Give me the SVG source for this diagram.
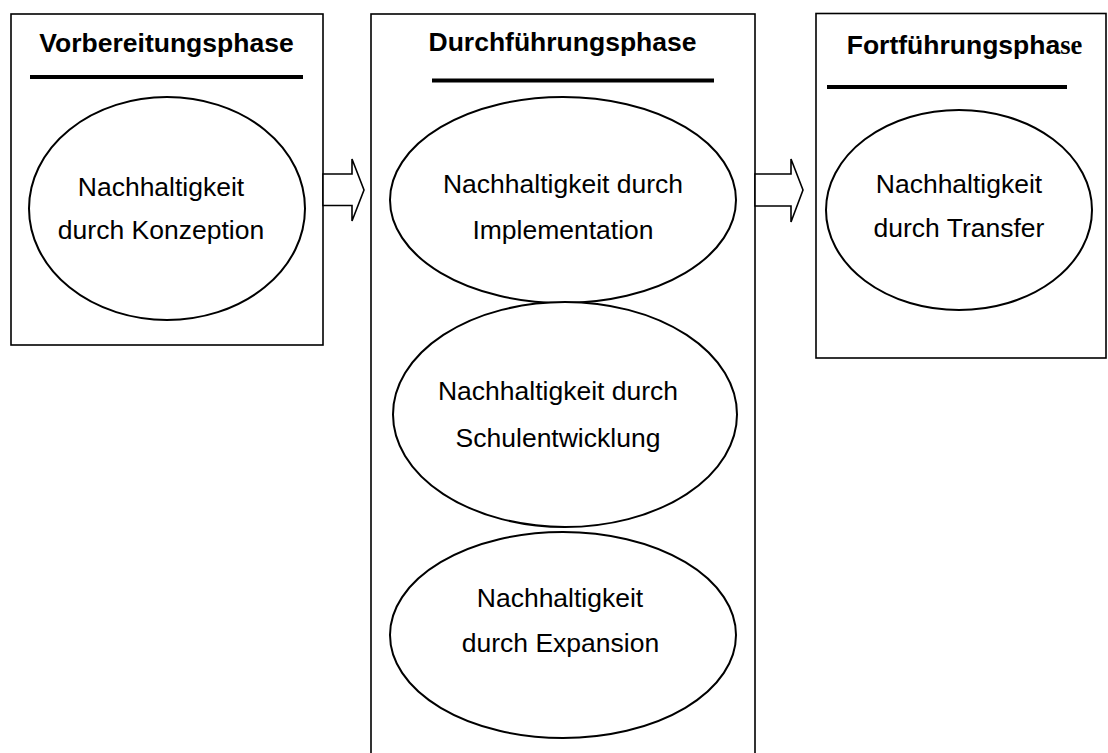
<svg xmlns="http://www.w3.org/2000/svg" width="1108" height="753" viewBox="0 0 1108 753">
<style>
.box{fill:#fff;stroke:#000;stroke-width:1.6}
.ell{fill:#fff;stroke:#000;stroke-width:2}
.ul{stroke:#000;stroke-width:4}
.arr{fill:#fff;stroke:#000;stroke-width:1.6;stroke-linejoin:miter}
.t{font-family:"Liberation Sans",Arial,sans-serif;font-size:26.5px;fill:#000;text-anchor:middle}
.h{font-family:"Liberation Sans",Arial,sans-serif;font-size:26.5px;font-weight:bold;fill:#000;text-anchor:middle}
.serif{font-family:"Liberation Serif","Times New Roman",serif}
</style>
<rect width="1108" height="753" fill="#fff"/>
<g id="vorbereitungsphase">
<rect class="box" x="11" y="14" width="312" height="331"/>
<text class="h" x="166.5" y="51.5">Vorbereitungsphase</text>
<line class="ul" x1="30" y1="77" x2="303" y2="77"/>
<g id="konzeption">
<ellipse class="ell" cx="167" cy="208.5" rx="138" ry="111.5"/>
<text class="t" x="161" y="196">Nachhaltigkeit</text>
<text class="t" x="161" y="239">durch Konzeption</text>
</g>
</g>
<g id="durchfuehrungsphase">
<rect class="box" x="371" y="14" width="384" height="760"/>
<text class="h" x="562.5" y="51">Durchführungsphase</text>
<line class="ul" x1="432" y1="80.5" x2="714" y2="80.5"/>
<g id="implementation">
<ellipse class="ell" cx="563" cy="200" rx="173" ry="103"/>
<text class="t" x="563" y="193">Nachhaltigkeit durch</text>
<text class="t" x="563" y="239">Implementation</text>
</g>
<g id="schulentwicklung">
<ellipse class="ell" cx="565" cy="414.5" rx="172" ry="112.5"/>
<text class="t" x="558" y="400">Nachhaltigkeit durch</text>
<text class="t" x="558" y="446.5">Schulentwicklung</text>
</g>
<g id="expansion">
<ellipse class="ell" cx="563" cy="635" rx="173" ry="103"/>
<text class="t" x="560" y="606.5">Nachhaltigkeit</text>
<text class="t" x="560.5" y="652">durch Expansion</text>
</g>
</g>
<g id="fortfuehrungsphase">
<rect class="box" x="816" y="13.5" width="290" height="344.5"/>
<text class="h" x="964.5" y="54">Fortführungspha<tspan class="serif">se</tspan></text>
<line class="ul" x1="827" y1="87" x2="1067" y2="87"/>
<g id="transfer">
<ellipse class="ell" cx="959" cy="210" rx="133" ry="100"/>
<text class="t" x="959" y="193">Nachhaltigkeit</text>
<text class="t" x="959" y="237">durch Transfer</text>
</g>
</g>
<g id="connectors">
<polygon class="arr" points="323,174 352,174 352,159 364,190 352,221 352,205.5 323,205.5"/>
<polygon class="arr" points="755,174 791,174 791,159 803,190 791,222 791,206 755,206"/>
</g>
</svg>
